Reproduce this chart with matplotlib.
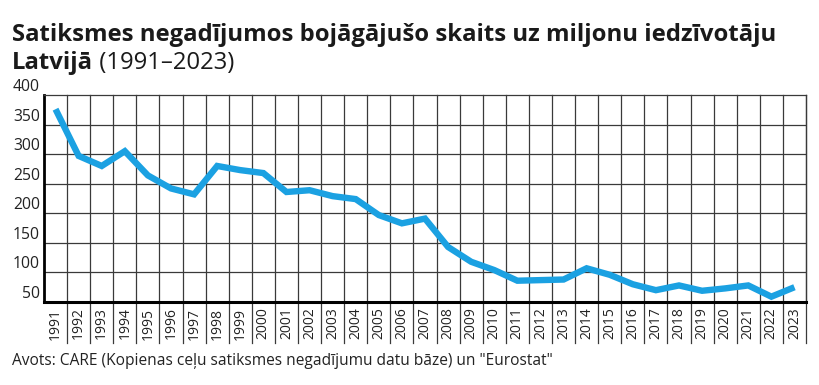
import matplotlib.pyplot as plt
import numpy as np

years = list(range(1991, 2024))
deaths_per_million = [376, 297, 280, 305, 264, 242, 232, 280, 273, 268, 236,
                      239, 229, 224, 197, 183, 191, 143, 118, 104, 86,
                      87, 88, 107, 96, 80, 70, 78, 69, 73, 78, 59, 75]
y_ticks = [50, 100, 150, 200, 250, 300, 350, 400]

title_line1 = "Satiksmes negadījumos bojāgājušo skaits uz miljonu iedzīvotāju"
title_bold2 = "Latvijā"
title_rest2 = " (1991–2023)"
source = 'Avots: CARE (Kopienas ceļu satiksmes negadījumu datu bāze) un "Eurostat"'

plt.rcParams["font.family"] = ["Open Sans", "DejaVu Sans"]

fig = plt.figure(figsize=(8.2, 3.85), dpi=100)
ax = fig.add_axes([44 / 820, 1 - 302 / 385, 762 / 820, 207 / 385])

x = np.arange(len(years))
ax.plot(x, deaths_per_million, color="#1ba1e2", lw=4.6, solid_joinstyle="miter",
        solid_capstyle="butt", zorder=3)

ax.set_xlim(-0.5, len(years) - 0.5)
ax.set_ylim(50, 400)

# grid: horizontal at ticks, vertical between years (running down through labels)
for v in y_ticks[1:-1]:
    ax.axhline(v, color="#3a3a3a", lw=0.9, zorder=1)
for b in np.arange(0.5, len(years) - 0.5, 1):
    ax.axvline(b, ymin=-0.2, ymax=1, color="#3a3a3a", lw=0.9, clip_on=False, zorder=1)
ax.axvline(len(years) - 0.5, ymin=-0.2, ymax=1, color="#3a3a3a", lw=0.9,
           clip_on=False, zorder=1)

for side in ["top", "right"]:
    ax.spines[side].set_color("#3a3a3a")
    ax.spines[side].set_linewidth(0.9)
ax.spines["left"].set_linewidth(2)
ax.spines["bottom"].set_linewidth(2.2)

ax.set_yticks(y_ticks)
ax.set_yticklabels([str(v) for v in y_ticks], fontsize=11.3, color="#222222",
                   va="bottom")
ax.tick_params(axis="y", length=0, pad=3)

ax.set_xticks(x)
ax.set_xticklabels([str(y) for y in years], rotation=90, fontsize=10,
                   color="#222222", va="top")
ax.tick_params(axis="x", length=0, pad=4)

fig.text(12 / 820, 1 - 35 / 385, title_line1, fontsize=17.2, fontweight="bold",
         color="#1a1a1a", va="center", ha="left")
t2 = fig.text(12 / 820, 1 - 63 / 385, title_bold2, fontsize=17.2, fontweight="bold",
              color="#1a1a1a", va="center", ha="left")
fig.canvas.draw()
bb = t2.get_window_extent()
fig.text(bb.x1 / 820, 1 - 63 / 385, title_rest2, fontsize=17.2, color="#1a1a1a",
         va="center", ha="left")

fig.text(12 / 820, 1 - 361 / 385, source, fontsize=11.2, color="#222222",
         va="center", ha="left")

fig.savefig("out.png", dpi=100, facecolor="white")
